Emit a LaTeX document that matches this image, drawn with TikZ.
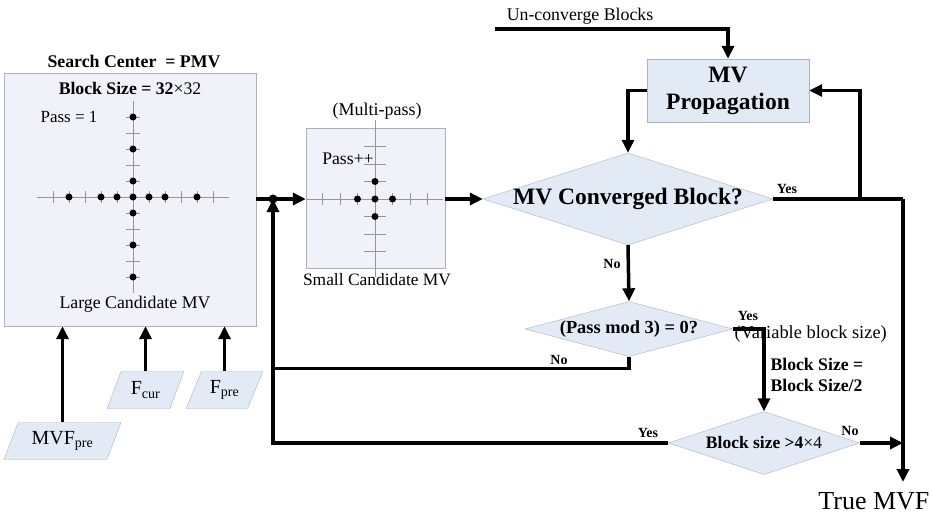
\documentclass[tikz,border=0pt]{standalone}
\usepackage{fontspec}
\setmainfont{Liberation Serif}
\usetikzlibrary{shapes.geometric,arrows.meta}
\definecolor{panelfill}{RGB}{239,243,249}
\definecolor{stepfill}{RGB}{226,234,245}
\definecolor{edgegray}{RGB}{170,178,190}
\definecolor{gridgray}{RGB}{150,150,150}
\newcommand{\fsz}[1]{\fontsize{#1}{#1}\selectfont}
\tikzset{
  flow/.style={line width=3.5pt, -{Triangle[length=13pt,width=12pt]}},
  wire/.style={line width=3.5pt},
  panel/.style={draw=edgegray, fill=panelfill, inner sep=0pt},
  procbox/.style={draw=edgegray, fill=stepfill, align=center, font=\fontsize{23.5}{27}\selectfont\bfseries},
  decision/.style={diamond, draw=edgegray, fill=stepfill, inner sep=0pt},
  inputbox/.style={trapezium, trapezium left angle=63, trapezium right angle=117,
    trapezium stretches=true, draw=edgegray, fill=stepfill, inner sep=0pt,
    minimum height=37pt, font=\fsz{20}},
  ynlabel/.style={font=\fsz{14}\bfseries},
  gridline/.style={gridgray, line width=0.7pt}
}
\begin{document}
\begin{tikzpicture}[x=1pt, y=-1pt, line join=miter]
  \useasboundingbox (0,0) rectangle (934,514);

  % large search pattern
  \node[panel, minimum width=252pt, minimum height=253pt] (large) at (130,199.5) {};
  \node[font=\fsz{17.8}\bfseries] (center) at (134,61) {Search Center\ \ = PMV};
  \node[font=\fsz{17.7}\bfseries] (bsize) at (130,88) {Block Size = 32\textmd{×32}};
  \node[font=\fsz{17}] (pass1) at (69,117) {Pass = 1};
  \node[font=\fsz{17.8}] (largecap) at (135,304) {Large Candidate MV};
  \begin{scope}[shift={(133,197)}]
    \draw[gridline] (-96,0) -- (96,0);
    \draw[gridline] (0,-96) -- (0,96);
    \foreach \k in {-5,...,-1,1,2,...,5} {
      \draw[gridline] (\k*16,-6) -- (\k*16,6);
      \draw[gridline] (-7,\k*16) -- (7,\k*16);
    }
    \foreach \k in {-4,-2,-1,0,1,2,4} \fill (\k*16,0) circle (3.5pt);
    \foreach \k in {-5,-3,-1,1,3,5} \fill (0,\k*16) circle (3.5pt);
  \end{scope}

  % small search pattern
  \node[panel, minimum width=139pt, minimum height=140pt] (small) at (375.5,198) {};
  \begin{scope}[shift={(375,199)}]
    \draw[gridline] (-68,0) -- (68,0);
    \draw[gridline] (0,-79) -- (0,78);
    \foreach \k in {-3,-2,-1,1,2,3} {
      \draw[gridline] (\k*17.5,-6) -- (\k*17.5,6);
      \draw[gridline] (-11,\k*17.5) -- (11,\k*17.5);
    }
    \fill (0,0) circle (3.5pt) (-17.5,0) circle (3.5pt) (17.5,0) circle (3.5pt)
          (0,-17.5) circle (3.5pt) (0,17.5) circle (3.5pt);
  \end{scope}
  \node[font=\fsz{18}] (multipass) at (377,111) {(Multi-pass)};
  \node[font=\fsz{17.7}] (passpp) at (348,159) {Pass++};
  \node[font=\fsz{17.4}] (smallcap) at (377,280) {Small Candidate MV};

  % inputs
  \node[inputbox, minimum width=117pt] (mvfpre) at (62.5,441) {MVF\textsubscript{pre}};
  \node[inputbox, minimum width=77pt] (fcur) at (145.5,390) {F\textsubscript{cur}};
  \node[inputbox, minimum width=77pt] (fpre) at (224.5,390) {F\textsubscript{pre}};

  % process and decisions
  \node[procbox, minimum width=162pt, minimum height=63pt] (prop) at (728,90.5) {MV\\Propagation};
  \node[decision, minimum width=290pt, minimum height=92pt] (conv) at (628,199) {};
  \node[font=\fsz{23.5}\bfseries] (convtext) at (conv) {MV Converged Block?};
  \node[decision, minimum width=208pt, minimum height=55pt] (passmod) at (629,329) {};
  \node[font=\fsz{18.4}\bfseries] (passmodtext) at (passmod) {(Pass mod 3) = 0?};
  \node[decision, minimum width=191pt, minimum height=63pt] (bsdec) at (764,443) {};
  \node[font=\fsz{17.5}\bfseries] (bsdectext) at (bsdec) {Block size >4\textmd{×4}};

  \node[font=\fsz{17.8}] (unconv) at (580,16) {Un-converge Blocks};
  \node[font=\fsz{26}, anchor=east] (truemvf) at (933,501) {True MVF};
  \node[font=\fsz{18.4}, anchor=west] (varsize) at (731,334) {(Variable block size)};
  \node[font=\fsz{17.7}\bfseries, anchor=west, align=left] (halve) at (767,375)
       {Block Size =\\[3pt]Block Size/2};

  \coordinate (unstart) at (495,29);
  \coordinate (junc) at (273,199);
  \coordinate (rail) at (903,199);
  \coordinate (railend) at (903,482);
  \coordinate (back) at (860,199);

  % connectors
  \draw[flow] (mvfpre.north) -- (mvfpre.north |- large.south);
  \draw[flow] (fcur.north) -- (fcur.north |- large.south);
  \draw[flow] (fpre.north) -- (fpre.north |- large.south);
  \draw[flow] (large.east |- junc) -- (small.west |- junc);
  \fill (junc) circle (4.5pt);
  \draw[flow] (small.east |- conv.west) -- (conv.west);
  \draw[flow] (unstart) -| (prop.north);
  \draw[flow] (prop.west) -| (conv.north);
  \draw[wire] (conv.east) -- (rail);
  \draw[flow] (back) |- (prop.east);
  \draw[flow] (rail) -- (railend);
  \draw[flow] (conv.south) -- (passmod.north);
  \node[ynlabel] (convno) at (612,264) {No};
  \draw[wire] (passmod.south) -- ++(0,12) -| (junc);
  \node[ynlabel] (passno) at (559,360) {No};
  \draw[flow] (passmod.east) -| (bsdec.north);
  \node[ynlabel] (passyes) at (748,316) {Yes};
  \draw[flow] (bsdec.west) -| (junc);
  \node[ynlabel] (bsyes) at (648,433) {Yes};
  \draw[flow] (bsdec.east) -- (rail |- bsdec.east);
  \node[ynlabel] (bsno) at (850,431) {No};
  \node[ynlabel] (convyes) at (787,189) {Yes};
\end{tikzpicture}
\end{document}
